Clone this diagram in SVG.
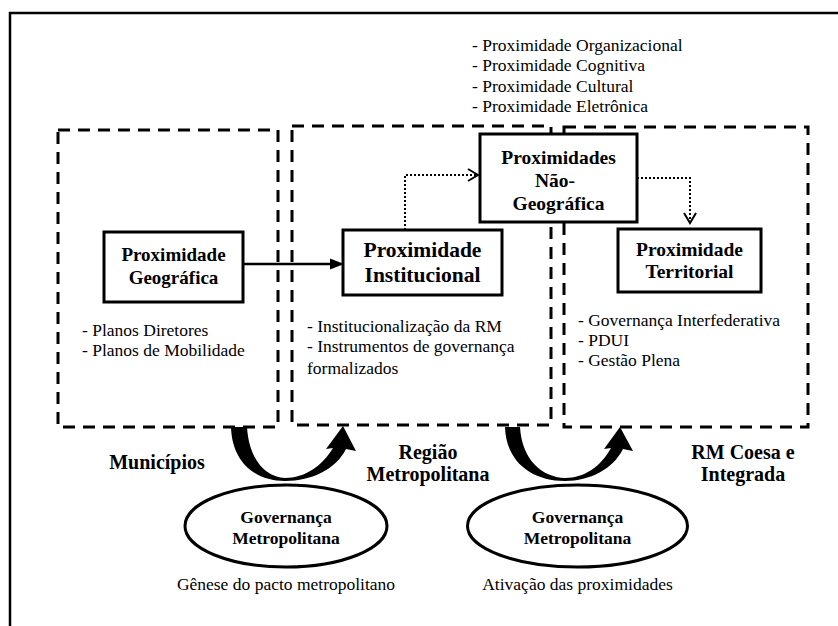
<svg xmlns="http://www.w3.org/2000/svg" width="838" height="626" viewBox="0 0 838 626">
<defs>
<style>
.frame{fill:none;stroke:#000;stroke-width:2.5}
.zone{fill:none;stroke:#000;stroke-width:3;stroke-dasharray:12 8}
.node{fill:#fff;stroke:#000;stroke-width:3}
.ell{fill:#fff;stroke:#000;stroke-width:3}
.dot{fill:none;stroke:#000;stroke-width:2;stroke-dasharray:2 2}
.chev{fill:none;stroke:#000;stroke-width:2}
.solid{fill:none;stroke:#000;stroke-width:2.5}
.t{font-family:"Liberation Serif","Times New Roman",serif;fill:#000}
.r{font-size:17.5px}
.b{font-weight:bold}
.m{text-anchor:middle}
</style>
</defs>
<rect width="838" height="626" fill="#fff"/>
<rect class="frame" x="10" y="13" width="840" height="630"/>

<g id="zones">
<rect class="zone" x="58" y="130" width="220" height="297"/>
<rect class="zone" x="292" y="126" width="259" height="299"/>
<rect class="zone" x="564" y="127" width="244" height="300"/>
</g>

<g id="top-list">
<text class="t r" x="472" y="51">- Proximidade Organizacional</text>
<text class="t r" x="472" y="71">- Proximidade Cognitiva</text>
<text class="t r" x="472" y="92">- Proximidade Cultural</text>
<text class="t r" x="472" y="112">- Proximidade Eletrônica</text>
</g>

<g id="connectors">
<line class="solid" x1="243" y1="264" x2="334" y2="264"/>
<polygon points="344,264 330,258.5 330,269.5" fill="#000"/>
<polyline class="dot" points="405,230 405,175 477,175"/>
<polyline class="chev" points="468,169 478,175 468,181"/>
<polyline class="dot" points="637,178 690,178 690,222"/>
<polyline class="chev" points="684,213 690,223 696,213"/>
<path d="M231 427 L247 427 C249 460 266 477 285 478 C305 478 322 466 333 448 L326 449 L343 426 L356 451 L346 449 C336 469 312 481 285 481 C255 481 232 462 231 427 Z" fill="#000"/>
<path d="M505 427 L520 427 C522 460 542 477 565 478 C585 478 601 466 611 448 L604 449 L620 427 L633 451 L623 449 C613 469 590 481 565 481 C532 481 506 462 505 427 Z" fill="#000"/>
</g>

<g id="n-geografica">
<rect class="node" x="104" y="232" width="139" height="70"/>
<text class="t b m" style="font-size:19px" x="173.5" y="261">Proximidade</text>
<text class="t b m" style="font-size:19px" x="173.5" y="284">Geográfica</text>
<text class="t r" x="82" y="336">- Planos Diretores</text>
<text class="t r" x="82" y="356">- Planos de Mobilidade</text>
</g>

<g id="n-institucional">
<rect class="node" x="343" y="230" width="159" height="65"/>
<text class="t b m" style="font-size:21.5px" x="422.5" y="257">Proximidade</text>
<text class="t b m" style="font-size:21.5px" x="422.5" y="282">Institucional</text>
<text class="t r" x="307" y="332">- Institucionalização da RM</text>
<text class="t r" x="307" y="352">- Instrumentos de governança</text>
<text class="t r" x="307" y="374">formalizados</text>
</g>

<g id="n-naogeografica">
<rect class="node" x="480" y="134" width="157" height="88"/>
<text class="t b m" style="font-size:19.5px" x="558.5" y="164">Proximidades</text>
<text class="t b m" style="font-size:19.5px" x="555" y="187">Não-</text>
<text class="t b m" style="font-size:19.5px" x="558.5" y="210">Geográfica</text>
</g>

<g id="n-territorial">
<rect class="node" x="618" y="229" width="143" height="63"/>
<text class="t b m" style="font-size:19.5px" x="689.5" y="256">Proximidade</text>
<text class="t b m" style="font-size:19.5px" x="689.5" y="278">Territorial</text>
<text class="t r" x="578" y="326">- Governança Interfederativa</text>
<text class="t r" x="578" y="346">- PDUI</text>
<text class="t r" x="578" y="366">- Gestão Plena</text>
</g>

<g id="labels">
<text class="t b m" style="font-size:20px" x="157" y="469">Municípios</text>
<text class="t b m" style="font-size:20px" x="428" y="459">Região</text>
<text class="t b m" style="font-size:20px" x="428" y="481">Metropolitana</text>
<text class="t b m" style="font-size:20px" x="743" y="459">RM Coesa e</text>
<text class="t b m" style="font-size:20px" x="743" y="481">Integrada</text>
</g>

<g id="n-governanca1">
<ellipse class="ell" cx="286" cy="526" rx="101" ry="41"/>
<text class="t b m" style="font-size:17.5px" x="286" y="523">Governança</text>
<text class="t b m" style="font-size:17.5px" x="286" y="544">Metropolitana</text>
<text class="t r m" x="286" y="590">Gênese do pacto metropolitano</text>
</g>

<g id="n-governanca2">
<ellipse class="ell" cx="577.5" cy="526" rx="110" ry="41"/>
<text class="t b m" style="font-size:17.5px" x="577.5" y="523">Governança</text>
<text class="t b m" style="font-size:17.5px" x="577.5" y="544">Metropolitana</text>
<text class="t r m" x="577.5" y="590">Ativação das proximidades</text>
</g>
</svg>
